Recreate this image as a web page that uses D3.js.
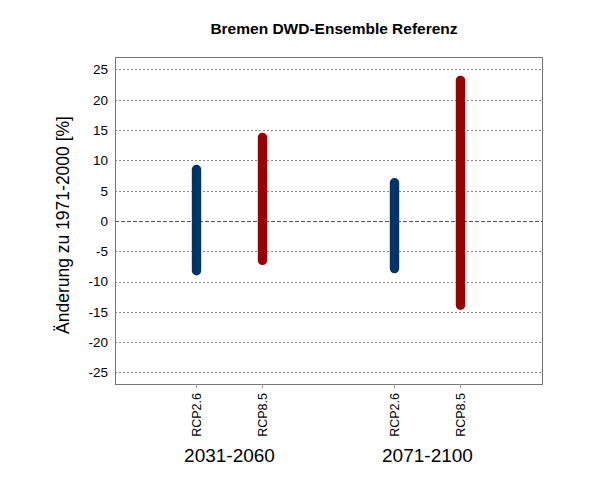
<!DOCTYPE html>
<html><head><meta charset="utf-8">
<script src="https://cdn.jsdelivr.net/npm/d3@7"></script>
<style>body{margin:0;background:#fff}svg{display:block}text{font-family:"Liberation Sans",Arial,sans-serif}</style>
</head><body>
<script>
const title = "Bremen DWD-Ensemble Referenz";
const yTitle = "Änderung zu 1971-2000 [%]";
const scenarios = ["RCP2.6","RCP8.5","RCP2.6","RCP8.5"];
const positions = [1,2,4,5];
const lowValues = [-8.2,-6.5,-7.85,-13.9];
const highValues = [8.5,13.8,6.3,23.2];
const colors = ["#003366","#990000","#003366","#990000"];
const periods = ["2031-2060","2071-2100"];
const periodCenters = [1.5,4.5];
const yTicks = [25,20,15,10,5,0,-5,-10,-15,-20,-25];

const W=600,H=500;
const L=115,R=542,T=57,B=384;
const svg=d3.select("body").append("svg").attr("width",W).attr("height",H);
const x=d3.scaleLinear().domain([-0.235,6.235]).range([L,R]);
const y=d3.scaleLinear().domain([-26.9,27.06]).range([B,T]);

// gridlines
svg.append("g").selectAll("line").data(yTicks).join("line")
  .attr("x1",L).attr("x2",R).attr("y1",d=>Math.round(y(d))+0.5).attr("y2",d=>Math.round(y(d))+0.5)
  .attr("stroke",d=>d===0?"#555":"#888")
  .attr("stroke-width",1)
  .attr("stroke-dasharray",d=>d===0?"4,2":"2,2");

// y tick labels
svg.append("g").selectAll("text").data(yTicks).join("text")
  .attr("x",L-7).attr("y",d=>y(d)).attr("dy","0.36em")
  .attr("text-anchor","end").attr("font-size",13.5).attr("fill","#000")
  .text(d=>d);

// bars
svg.append("g").selectAll("line").data(positions).join("line")
  .attr("x1",d=>x(d)).attr("x2",d=>x(d))
  .attr("y1",(d,i)=>y(lowValues[i])).attr("y2",(d,i)=>y(highValues[i]))
  .attr("stroke",(d,i)=>colors[i]).attr("stroke-width",9.4)
  .attr("stroke-linecap","round");

// box
svg.append("rect").attr("x",L).attr("y",T).attr("width",R-L).attr("height",B-T)
  .attr("fill","none").attr("stroke","#777").attr("stroke-width",1).attr("shape-rendering","crispEdges");

// x ticks
svg.append("g").selectAll("line").data(positions).join("line")
  .attr("x1",d=>x(d)).attr("x2",d=>x(d)).attr("y1",B).attr("y2",B+4)
  .attr("stroke","#999").attr("shape-rendering","crispEdges");

svg.append("g").selectAll("text").data(positions).join("text")
  .attr("transform",d=>`translate(${x(d)+4.5},393) rotate(-90)`)
  .attr("text-anchor","end").attr("font-size",12.5).attr("fill","#000")
  .text((d,i)=>scenarios[i]);

svg.append("g").selectAll("text").data(periodCenters).join("text")
  .attr("x",d=>x(d)).attr("y",461.5).attr("text-anchor","middle")
  .attr("font-size",19).attr("fill","#000").text((d,i)=>periods[i]);

svg.append("text").attr("x",334).attr("y",34).attr("text-anchor","middle")
  .attr("font-size",15.5).attr("font-weight","bold").text(title);

svg.append("text").attr("transform",`translate(69,225) rotate(-90)`)
  .attr("text-anchor","middle").attr("font-size",17.5).text(yTitle);
</script>
</body></html>
